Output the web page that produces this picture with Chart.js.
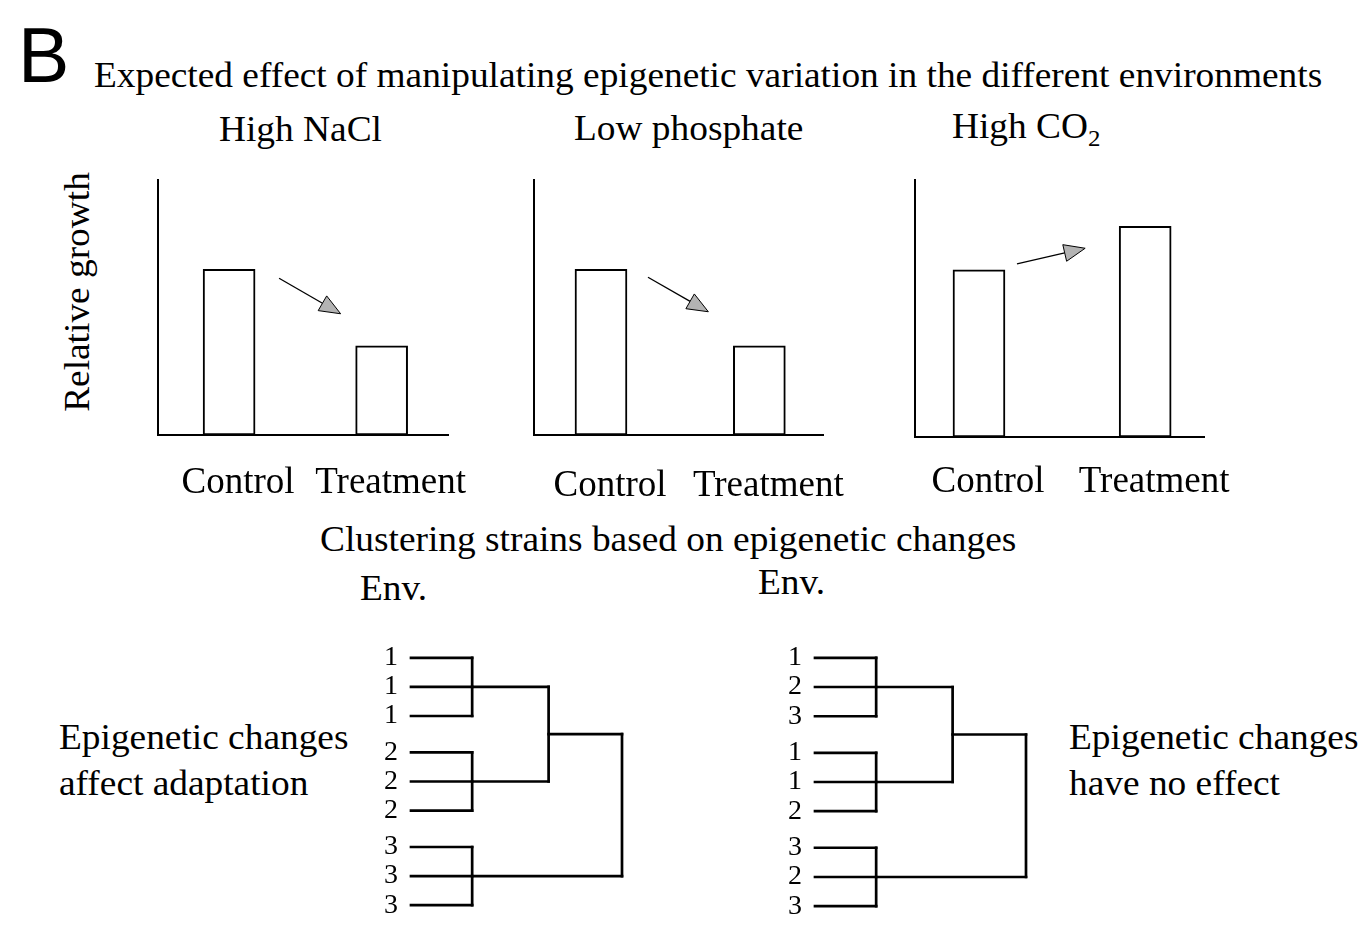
<!DOCTYPE html>
<html>
<head>
<meta charset="utf-8">
<script src="https://cdn.jsdelivr.net/npm/chart.js@4.4.0/dist/chart.umd.min.js"></script>
<style>
  body { margin: 0; background: #fff; }
  #page { position: relative; width: 1358px; height: 928px; overflow: hidden; color: #000;
          font-family: "Liberation Serif", "Times New Roman", serif; }
  .t { position: absolute; white-space: nowrap; line-height: 1; font-size: 36px;
       transform: scaleX(1.038); transform-origin: 0 0; }
  .t sub { font-size: 24px; vertical-align: -8px; line-height: 0; }
  canvas { position: absolute; }
</style>
</head>
<body>
<div id="page">
  <div class="t" style="left:18px;top:17px;font-family:'Liberation Sans',Arial,sans-serif;font-size:77px;transform:none;">B</div>
  <div class="t" style="left:94px;top:57px;">Expected effect of manipulating epigenetic variation in the different environments</div>
  <div class="t" style="left:219px;top:111px;">High NaCl</div>
  <div class="t" style="left:574px;top:110px;">Low phosphate</div>
  <div class="t" style="left:952px;top:108px;">High CO<sub>2</sub></div>
  <div class="t" style="left:77px;top:292px;transform:translate(-50%,-50%) rotate(-90deg) scaleX(1.038);transform-origin:50% 50%;">Relative growth</div>
  <div class="t" style="left:320px;top:521px;">Clustering strains based on epigenetic changes</div>
  <div class="t" style="left:360px;top:570px;">Env.</div>
  <div class="t" style="left:758px;top:564px;">Env.</div>
  <div class="t" style="left:59px;top:719px;">Epigenetic changes</div>
  <div class="t" style="left:59px;top:765px;">affect adaptation</div>
  <div class="t" style="left:1069px;top:719px;">Epigenetic changes</div>
  <div class="t" style="left:1069px;top:765px;">have no effect</div>
</div>
<script>
// bar panels: relative growth, control vs treatment
const groups = ["Control", "Treatment"];
const naclGrowth = [65, 35];
const phosphateGrowth = [65, 35];
const co2Growth = [65, 82];

// dendrograms: environment of each strain, top to bottom
const envAffect = ["1", "1", "1", "2", "2", "2", "3", "3", "3"];
const envNoEffect = ["1", "2", "3", "1", "1", "2", "3", "2", "3"];
const clusters = [[0, 1, 2], [3, 4, 5], [6, 7, 8]];
const mergeHeights = [1, 2.25, 3.45]; // within cluster, clusters 1+2, root

const serif = '"Liberation Serif", "Times New Roman", serif';
Chart.defaults.font.family = serif;
const charts = [];

function addCanvas(left, top, width, height) {
  const c = document.createElement("canvas");
  c.width = width;
  c.height = height;
  c.style.left = left + "px";
  c.style.top = top + "px";
  document.getElementById("page").appendChild(c);
  return c;
}

// grey arrow between the two bars
const arrowPlugin = {
  id: "arrow",
  afterDatasetsDraw(chart, args, opts) {
    const bars = chart.getDatasetMeta(0).data;
    const a = bars[0], b = bars[1];
    const x1 = a.x + a.width / 2 + opts.from[0], y1 = a.y + opts.from[1];
    const x2 = b.x - b.width / 2 + opts.to[0], y2 = b.y + opts.to[1];
    const ang = Math.atan2(y2 - y1, x2 - x1);
    const len = 21, half = 8.5;
    const bx = x2 - len * Math.cos(ang), by = y2 - len * Math.sin(ang);
    const ctx = chart.ctx;
    ctx.save();
    ctx.strokeStyle = "#000";
    ctx.lineWidth = 1.3;
    ctx.beginPath();
    ctx.moveTo(x1, y1);
    ctx.lineTo(bx, by);
    ctx.stroke();
    ctx.beginPath();
    ctx.moveTo(x2, y2);
    ctx.lineTo(bx + half * Math.sin(ang), by - half * Math.cos(ang));
    ctx.lineTo(bx - half * Math.sin(ang), by + half * Math.cos(ang));
    ctx.closePath();
    ctx.fillStyle = "#b3b3b3";
    ctx.fill();
    ctx.lineWidth = 1;
    ctx.stroke();
    ctx.restore();
  }
};

function barChart(values, area, xRange, labelPad, arrow) {
  const padL = 20, padT = 12, padR = 30, axisH = 80;
  const canvas = addCanvas(area.left - padL, area.top - padT,
    area.right - area.left + padL + padR, area.bottom - area.top + padT + axisH);
  charts.push(new Chart(canvas, {
    type: "bar",
    data: {
      datasets: [{
        data: values.map((v, i) => ({ x: i, y: v })),
        backgroundColor: "#fff",
        borderColor: "#000",
        borderWidth: 2,
        borderSkipped: false,
        barThickness: 52
      }]
    },
    options: {
      responsive: false,
      animation: false,
      devicePixelRatio: 1,
      layout: { padding: { left: padL, top: padT, right: padR, bottom: 0 } },
      plugins: { legend: { display: false }, tooltip: { enabled: false }, arrow: arrow },
      scales: {
        x: {
          type: "linear",
          offset: false,
          min: xRange[0],
          max: xRange[1],
          afterBuildTicks(s) { s.ticks = groups.map((g, i) => ({ value: i })); },
          grid: { display: false, drawTicks: false, offset: false },
          border: { display: true, color: "#000", width: 2 },
          ticks: {
            color: "#000", font: { family: serif, size: 37 }, padding: labelPad,
            labelOffset: 9, maxRotation: 0, minRotation: 0, autoSkip: false,
            callback: v => groups[v]
          },
          afterFit(s) { s.height = axisH; s.paddingLeft = 0; s.paddingRight = 0; }
        },
        y: {
          min: 0,
          max: 100,
          grid: { display: false, drawTicks: false },
          border: { display: true, color: "#000", width: 2 },
          ticks: { display: false },
          afterFit(s) { s.width = 0; }
        }
      }
    },
    plugins: [arrowPlugin]
  }));
}

barChart(naclGrowth, { left: 158, top: 180, right: 448, bottom: 435 }, [-0.466, 1.435], 26,
  { from: [24, 9], to: [-15, -32] });
barChart(phosphateGrowth, { left: 534, top: 180, right: 823, bottom: 435 }, [-0.423, 1.402], 29,
  { from: [21, 8], to: [-25, -34] });
barChart(co2Growth, { left: 915, top: 180, right: 1204, bottom: 437 }, [-0.385, 1.354], 23,
  { from: [12, -6], to: [-34, 22] });

function leafPositions() {
  const pos = [];
  clusters.forEach((c, g) => c.forEach(i => { pos[i] = i + g * 0.25; }));
  return pos;
}

function dendroSegments() {
  const y = leafPositions();
  const [h1, h2, h3] = mergeHeights;
  const segs = [];
  const mids = clusters.map(c => {
    c.forEach(i => segs.push([[0, y[i]], [h1, y[i]]]));
    const top = y[c[0]], bot = y[c[c.length - 1]];
    segs.push([[h1, top], [h1, bot]]);
    return (top + bot) / 2;
  });
  segs.push([[h1, mids[0]], [h2, mids[0]]]);
  segs.push([[h1, mids[1]], [h2, mids[1]]]);
  segs.push([[h2, mids[0]], [h2, mids[1]]]);
  const m12 = (mids[0] + mids[1]) / 2;
  segs.push([[h2, m12], [h3, m12]]);
  segs.push([[h1, mids[2]], [h3, mids[2]]]);
  segs.push([[h3, m12], [h3, mids[2]]]);
  return segs;
}

function dendrogram(labels, area) {
  const axisW = 60, padT = 20, padB = 20, padR = 10;
  const canvas = addCanvas(area.left - axisW, area.top - padT,
    area.right - area.left + axisW + padR, area.bottom - area.top + padT + padB);
  const pos = leafPositions();
  charts.push(new Chart(canvas, {
    type: "scatter",
    data: {
      datasets: dendroSegments().map(s => ({
        data: s.map(p => ({ x: p[0], y: p[1] })),
        showLine: true,
        borderColor: "#000",
        borderWidth: 2.7,
        borderCapStyle: "square",
        pointRadius: 0,
        clip: false
      }))
    },
    options: {
      responsive: false,
      animation: false,
      devicePixelRatio: 1,
      layout: { padding: { left: 0, top: padT, right: padR, bottom: padB } },
      plugins: { legend: { display: false }, tooltip: { enabled: false } },
      scales: {
        x: { type: "linear", min: 0, max: mergeHeights[2], display: false },
        y: {
          type: "linear",
          min: 0,
          max: Math.max(...pos),
          reverse: true,
          afterBuildTicks(s) { s.ticks = pos.map(v => ({ value: v })); },
          grid: { display: false, drawTicks: false },
          border: { display: false },
          ticks: {
            autoSkip: false,
            color: "#000",
            padding: 13,
            font: { family: serif, size: 28 },
            callback: (v, i) => labels[i]
          },
          afterFit(s) { s.width = axisW; }
        }
      }
    }
  }));
}

dendrogram(envAffect, { left: 411, top: 648, right: 622, bottom: 915 });
dendrogram(envNoEffect, { left: 815, top: 648, right: 1026, bottom: 916 });

// redraw once the serif face is resolved so canvas text uses it too
document.fonts.load('37px "Liberation Serif"').then(() => charts.forEach(c => c.update()));
</script>
</body>
</html>
